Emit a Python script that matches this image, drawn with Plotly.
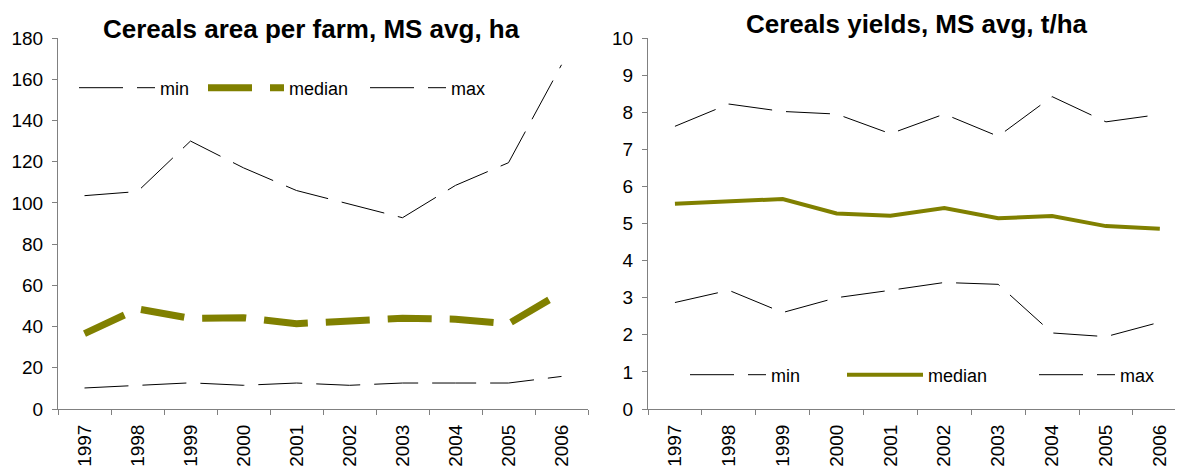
import plotly.graph_objects as go

years = ["1997", "1998", "1999", "2000", "2001", "2002", "2003", "2004", "2005", "2006"]

area_min = [10.2, 11.3, 12.7, 11.5, 12.6, 11.5, 12.6, 12.6, 12.6, 15.8]
area_median = [36.6, 48.6, 44.0, 44.3, 41.4, 42.4, 44.0, 43.6, 41.4, 56.5]
area_max = [103.5, 105.5, 130.0, 117.0, 106.0, 99.5, 92.8, 108.5, 119.5, 167.0]

yield_min = [2.87, 3.2, 2.6, 3.0, 3.2, 3.41, 3.36, 2.05, 1.95, 2.34]
yield_median = [5.53, 5.6, 5.66, 5.27, 5.21, 5.42, 5.14, 5.2, 4.93, 4.86]
yield_max = [7.62, 8.22, 8.02, 7.95, 7.42, 7.95, 7.35, 8.42, 7.74, 7.94]

series_names = ["min", "median", "max"]
titles = ["Cereals area per farm, MS avg, ha", "Cereals yields, MS avg, t/ha"]

# The page body has an 8px margin, so the figure is sized to the remaining window
OFF = 8
W, H = 1183 - OFF, 468 - OFF
OLIVE = "#808000"
AXIS_GREY = "#808080"
FONT = "Liberation Sans, Arial, sans-serif"


def px(x):
    return (x - OFF) / W


def py(y):
    return 1 - (y - OFF) / H


fig = go.Figure()

thin_dash = "44px,14px"

# Left chart
fig.add_trace(go.Scatter(x=years, y=area_min, name=series_names[0], mode="lines",
                         line=dict(color="black", width=1, dash=thin_dash),
                         xaxis="x", yaxis="y", legend="legend"))
fig.add_trace(go.Scatter(x=years, y=area_median, name=series_names[1], mode="lines",
                         line=dict(color=OLIVE, width=7, dash="44px,18px"),
                         xaxis="x", yaxis="y", legend="legend2"))
fig.add_trace(go.Scatter(x=years, y=area_max, name=series_names[2], mode="lines",
                         line=dict(color="black", width=1, dash=thin_dash),
                         xaxis="x", yaxis="y", legend="legend3"))

# Right chart
fig.add_trace(go.Scatter(x=years, y=yield_min, name=series_names[0], mode="lines",
                         line=dict(color="black", width=1, dash=thin_dash),
                         xaxis="x2", yaxis="y2", legend="legend4"))
fig.add_trace(go.Scatter(x=years, y=yield_median, name=series_names[1], mode="lines",
                         line=dict(color=OLIVE, width=4),
                         xaxis="x2", yaxis="y2", legend="legend5"))
fig.add_trace(go.Scatter(x=years, y=yield_max, name=series_names[2], mode="lines",
                         line=dict(color="black", width=1, dash=thin_dash),
                         xaxis="x2", yaxis="y2", legend="legend6"))

top, bottom = 38, 409
xaxis_common = dict(type="category", tickson="boundaries", ticks="outside", ticklen=5,
                    tickcolor=AXIS_GREY, showline=True, linecolor=AXIS_GREY, linewidth=1,
                    showgrid=False, zeroline=False, tickangle=-90, automargin=False,
                    ticklabelstandoff=7,
                    tickfont=dict(family=FONT, size=19, color="black"))
yaxis_common = dict(ticks="outside", ticklen=5, tickcolor=AXIS_GREY, showline=True,
                    linecolor=AXIS_GREY, linewidth=1, showgrid=False, zeroline=False,
                    automargin=False, ticklabelstandoff=5,
                    tickfont=dict(family=FONT, size=19, color="black"))

legend_font = dict(family=FONT, size=18, color="black")


def leg(text_x, y):
    return dict(x=px(text_x - 86), y=py(y), xanchor="left", yanchor="middle",
                orientation="h", itemwidth=76, font=legend_font,
                bgcolor="rgba(0,0,0,0)", borderwidth=0)


fig.update_layout(
    width=W, height=H,
    margin=dict(l=0, r=0, t=0, b=0, autoexpand=False),
    paper_bgcolor="white", plot_bgcolor="white",
    showlegend=True,
    xaxis=dict(domain=[px(58), px(588)], range=[-0.5, 9.5], anchor="y", **xaxis_common),
    yaxis=dict(domain=[py(bottom), py(top)], range=[0, 180], dtick=20, anchor="x", **yaxis_common),
    xaxis2=dict(domain=[px(648), 1.0], range=[-0.5, 9.43], anchor="y2", **xaxis_common),
    yaxis2=dict(domain=[py(bottom), py(top)], range=[0, 10], dtick=1, anchor="x2", **yaxis_common),
    legend=leg(160, 88),
    legend2=leg(289, 88),
    legend3=leg(451, 88),
    legend4=leg(771, 375),
    legend5=leg(928, 375),
    legend6=leg(1120, 375),
    annotations=[
        dict(text="<b>" + titles[0] + "</b>", x=px(311), y=py(29), xref="paper", yref="paper",
             xanchor="center", yanchor="middle", showarrow=False,
             font=dict(family=FONT, size=26, color="black")),
        dict(text="<b>" + titles[1] + "</b>", x=px(917), y=py(OFF), xref="paper", yref="paper",
             xanchor="center", yanchor="top", showarrow=False, borderpad=0,
             font=dict(family=FONT, size=26, color="black")),
    ],
)

fig.write_html("out.html")
